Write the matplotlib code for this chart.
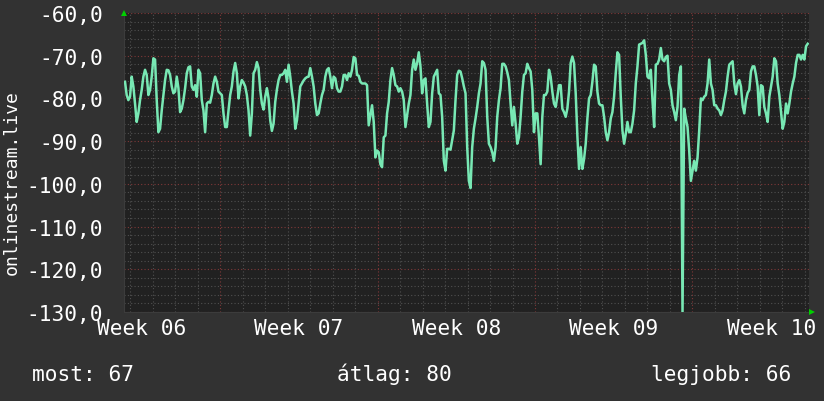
import numpy as np
import matplotlib
matplotlib.use("Agg")
import matplotlib.pyplot as plt

# signal level readings (dBm-like), evenly sampled over the month
values = [
    -76.1, -79.2, -80.4, -79.6, -74.9, -77.2, -81.2, -85.5, -83.5, -80.4,
    -78.0, -74.9, -73.3, -74.5, -79.2, -78.0, -74.9, -70.6, -70.9, -80.4,
    -87.9, -87.1, -82.8, -79.2, -75.7, -73.3, -73.4, -74.5, -77.2, -78.8,
    -78.4, -74.9, -77.6, -83.2, -82.4, -80.4, -77.6, -74.1, -72.7, -72.5,
    -77.2, -78.0, -76.9, -79.6, -73.3, -74.1, -80.4, -82.8, -87.9, -81.2,
    -80.8, -81.0, -79.2, -76.5, -74.9, -76.1, -78.4, -78.8, -79.2, -83.5,
    -86.7, -86.7, -82.8, -79.2, -77.2, -73.7,
    # week 07
    -71.7, -74.1, -80.0, -77.2, -75.7, -76.3, -77.2, -79.2, -82.8, -88.7,
    -83.5, -74.1, -73.3, -71.5, -72.9, -78.0, -81.2, -82.6, -79.6, -77.6,
    -80.0, -85.1, -87.6, -85.9, -80.8, -77.9, -75.7, -74.5, -74.5, -74.1,
    -73.3, -76.1, -72.1, -74.9, -78.4, -81.2, -87.1, -85.1, -81.2, -77.2,
    -76.5, -75.8, -75.3, -75.0, -74.9, -72.9, -74.9, -77.2, -81.2, -83.9,
    -83.5, -81.2, -79.2, -78.0, -74.9, -73.3, -72.9, -74.9, -77.6, -74.9,
    -75.3, -77.6, -78.4, -78.4, -77.2, -74.5, -74.5, -75.7, -74.1,
    -74.9, -73.3, -70.3, -70.6, -74.5, -74.7, -76.1, -76.5, -76.5, -76.5,
    -76.9, -86.3, -83.9, -81.6, -85.5, -93.8, -92.2, -92.6, -95.4, -96.1,
    -89.1, -88.7, -83.5, -80.8, -75.7, -72.9, -74.5, -76.9, -77.2, -78.4,
    -77.6, -78.4, -80.4, -86.7, -83.9, -81.2, -79.2, -73.3, -70.9, -73.3,
    -71.7, -69.2, -72.5, -78.8, -75.7, -75.3, -81.2, -86.7, -85.5, -78.8,
    -74.9, -74.1, -73.3, -78.8, -79.2, -84.3, -94.6, -96.9, -91.8, -91.8,
    -92.0, -89.8, -87.5, -80.4, -74.5, -73.5, -73.7, -75.3, -77.2,
    # week 08
    -78.8, -91.4, -99.3, -101.0, -91.4, -87.1, -84.7, -82.0, -78.8, -76.5,
    -71.3, -71.7, -73.3, -84.3, -90.6, -91.4, -92.6, -94.6, -91.4, -84.3,
    -80.4, -77.6, -71.9, -71.9, -72.5, -73.9, -75.7, -81.2, -86.3, -82.0,
    -85.9, -90.6, -89.1, -84.3, -78.4, -74.5, -74.1, -71.9, -72.9, -73.7,
    -78.0, -87.9, -83.5, -83.5, -89.1, -95.4, -84.3, -79.2, -79.2, -78.4,
    -73.3, -74.9, -78.4, -81.2, -82.0, -79.6, -76.9, -76.9, -82.4, -83.2,
    -84.3, -82.4, -78.4, -71.7, -70.2, -71.7, -78.8, -88.7, -96.5,
    -91.4, -96.5, -94.2, -90.6, -84.7, -80.0, -79.2, -76.1, -72.1, -72.5,
    -78.4, -81.2, -81.6, -81.6, -84.3, -87.9, -89.8, -87.9, -84.7, -83.2,
    -79.6, -74.1, -69.2, -69.8, -79.6, -87.5, -90.6, -88.3, -85.5, -87.9,
    -87.9, -85.9, -82.8, -76.5, -72.5, -67.4, -67.2, -67.0, -66.4, -69.8,
    -74.9, -75.3, -73.3, -80.4, -86.7, -72.1, -71.9, -70.9, -68.2, -70.9,
    -71.3, -70.3, -70.0, -76.5, -78.0, -81.6, -83.2, -85.1, -82.0, -74.5,
    -72.5, -130.0, -82.4, -84.7, -86.7, -92.2, -99.3, -96.9, -94.6,
    # week 09 / 10
    -96.9, -93.8, -87.5, -80.0, -80.4, -79.6, -79.2, -76.5, -70.9, -76.5,
    -78.0, -81.6, -81.6, -82.4, -82.8, -83.9, -82.8, -80.4, -78.4, -74.9,
    -72.1, -71.7, -71.3, -76.5, -79.0, -76.5, -75.7, -77.2, -81.6, -83.5,
    -80.4, -78.7, -78.0, -73.7, -72.5, -72.5, -74.5, -77.2, -83.9, -76.9,
    -77.2, -82.0, -83.5, -85.5, -79.6, -77.2, -74.9, -70.6, -71.3, -76.5,
    -79.2, -83.2, -87.1, -85.5, -81.2, -83.5, -81.2, -78.4, -76.5, -74.9,
    -71.7, -69.8, -69.8, -70.9, -69.8, -70.9, -67.8, -67.2,
]

t_start = 0.045      # days after left edge of graph
t_step = 0.0742      # days between samples
t_end = 30.45        # width of graph in days
week_start = 4.27    # first monday (week 07) in days
week_names = ["Week 06", "Week 07", "Week 08", "Week 09", "Week 10"]
summary = ["most: 67", "átlag: 80", "legjobb: 66"]
ylabel = "onlinestream.live"

times = t_start + t_step * np.arange(len(values))

back = "#323232"
canvas = "#212121"
fg = "#ffffff"
mono = "DejaVu Sans Mono"
fs = 15.2

fig = plt.figure(figsize=(8.24, 4.02), dpi=100, facecolor=back)
ax = fig.add_axes([124 / 824, 89 / 402, 685 / 824, 299 / 402])
ax.set_facecolor(canvas)

ax.set_xlim(0, t_end)
ax.set_ylim(-130, -60)

# grid: minor gray, major red, all dotted
for y in np.arange(-130, -59, 2):
    major = (y % 10 == 0)
    ax.axhline(y, color="#803838" if major else "#505050", lw=0.8,
               ls=(0, (1, 2)), zorder=1)
day_lines = np.arange(week_start - 4, t_end, 1.0)
for d in day_lines:
    major = abs(((d - week_start) / 7) - round((d - week_start) / 7)) < 1e-6
    ax.axvline(d, color="#803838" if major else "#505050", lw=0.8,
               ls=(0, (1, 2)), zorder=1)

ax.plot(times, values, color="#78e8b4", lw=1.8, zorder=3, clip_on=True)

# y ticks
yt = np.arange(-130, -59, 10)
ax.set_yticks(yt)
ax.set_yticklabels([("%.1f" % v).replace(".", ",") for v in yt],
                   fontfamily=mono, fontsize=fs, color=fg)
ax.tick_params(axis="y", length=0, pad=15)

# week labels centred in each week
lab_pos = week_start - 7 + 3.5 + 7 * np.arange(len(week_names))
ax.set_xticks(lab_pos)
ax.set_xticklabels(week_names, fontfamily=mono, fontsize=fs, color=fg)
ax.tick_params(axis="x", length=0, pad=4)

for s in ax.spines.values():
    s.set_visible(False)
ax.spines["bottom"].set_visible(True)
ax.spines["bottom"].set_color("#3c3c3c")
ax.spines["left"].set_visible(True)
ax.spines["left"].set_color("#3c3c3c")

# little green arrows at the axis ends
ax.plot([0], [1.0], marker="^", color="#00d000", ms=5, transform=ax.transAxes,
        clip_on=False, zorder=5, markeredgewidth=0)
ax.plot([1.005], [0.0], marker=">", color="#00d000", ms=5, transform=ax.transAxes,
        clip_on=False, zorder=5, markeredgewidth=0)

fig.text(12 / 824, 1 - 183 / 402, ylabel, rotation=90, ha="center", va="center",
         fontfamily=mono, fontsize=13, color=fg)

fig.text(32 / 824, 1 - 381 / 402, summary[0], ha="left", va="baseline",
         fontfamily=mono, fontsize=fs, color=fg)
fig.text(394 / 824, 1 - 381 / 402, summary[1], ha="center", va="baseline",
         fontfamily=mono, fontsize=fs, color=fg)
fig.text(791 / 824, 1 - 381 / 402, summary[2], ha="right", va="baseline",
         fontfamily=mono, fontsize=fs, color=fg)

fig.savefig("out.png", dpi=100, facecolor=back)
